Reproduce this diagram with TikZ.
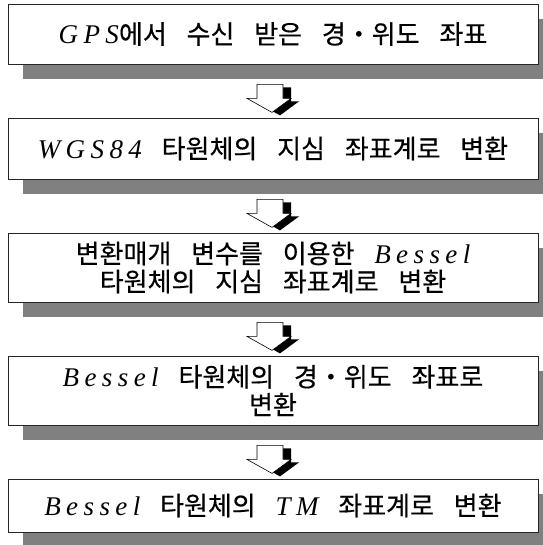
\documentclass[tikz,border=0pt]{standalone}
\usepackage{fontspec}
\setmainfont{Noto Sans CJK KR}[WordSpace=3.4,FakeBold=0.4]
\newfontfamily\latfont{Liberation Serif}[LetterSpace=20]
\newcommand\LatIt[1]{{\latfont\itshape\fontsize{27}{28}\selectfont #1}}
\usetikzlibrary{shadows}
\definecolor{shadowgray}{HTML}{808080}
\tikzset{
  stepbox/.style={draw=black!85, line width=0.8pt, fill=white,
    minimum width=530pt, inner sep=0pt, align=center,
    font=\fontsize{26}{28}\selectfont,
    drop shadow={shadow xshift=15pt, shadow yshift=-15pt, fill=shadowgray, opacity=1}},
  arrowdark/.style={fill=black},
  arrowlight/.style={fill=white, draw=black, line width=0.6pt},
}
\newcommand\BlockArrow[1]{%
  \begin{scope}[shift={(#1)}]
    \path[arrowdark] (-5,3) -- (21,3) -- (21,17) -- (29,17) -- (10,31) -- (-15,17) -- (-5,17) -- cycle;
    \path[arrowlight] (-13,0) -- (13,0) -- (13,14) -- (21,14) -- (2,28) -- (-23,14) -- (-13,14) -- cycle;
  \end{scope}}
\begin{document}
\begin{tikzpicture}[x=1pt, y=-1pt]
  \useasboundingbox (0,0) rectangle (542,545);
  \node[stepbox, minimum height=60pt] (b1) at (273,34) {\LatIt{GPS}에서 수신 받은 경・위도 좌표};
  \node[stepbox, minimum height=61pt] (b2) at (273,148.5) {\LatIt{WGS84} 타원체의 지심 좌표계로 변환};
  \node[stepbox, minimum height=69pt] (b3) at (273,267.5) {변환매개 변수를 이용한 \LatIt{Bessel}\\타원체의 지심 좌표계로 변환};
  \node[stepbox, minimum height=69pt] (b4) at (273,390.5) {\LatIt{Bessel} 타원체의 경・위도 좌표로\\변환};
  \node[stepbox, minimum height=53pt] (b5) at (273,505.5) {\LatIt{Bessel} 타원체의 \LatIt{TM} 좌표계로 변환};
  \coordinate (a1) at ([xshift=-3pt,yshift=-20pt]b1.south);
  \coordinate (a2) at ([xshift=-3pt,yshift=-20pt]b2.south);
  \coordinate (a3) at ([xshift=-3pt,yshift=-20pt]b3.south);
  \coordinate (a4) at ([xshift=-3pt,yshift=-20pt]b4.south);
  \BlockArrow{a1}
  \BlockArrow{a2}
  \BlockArrow{a3}
  \BlockArrow{a4}
\end{tikzpicture}
\end{document}
